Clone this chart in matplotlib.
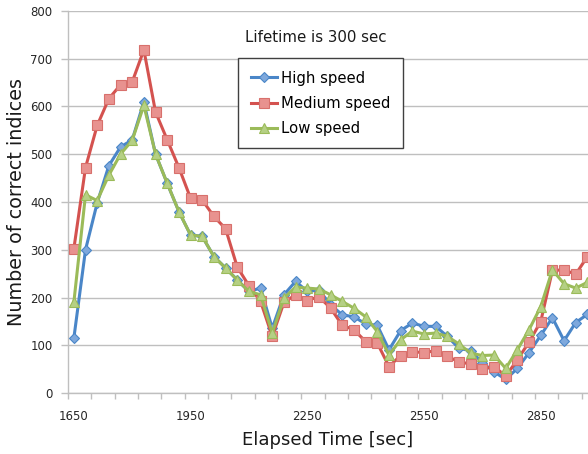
import matplotlib
matplotlib.use("Agg")
import matplotlib.pyplot as plt
from matplotlib.ticker import FixedLocator

plt.rcParams['font.family'] = ['DejaVu Sans']

times = [1650 + 30 * i for i in range(45)]

high = [115, 300, 398, 476, 515, 530, 609, 500, 439, 380,
        331, 328, 286, 262, 237, 213, 220, 136, 206, 234,
        213, 216, 185, 164, 160, 145, 142, 91, 131, 147,
        140, 140, 119, 94, 89, 64, 45, 29, 52, 85,
        121, 158, 110, 148, 165]

medium = [302, 472, 560, 616, 645, 651, 718, 588, 530, 472,
          408, 404, 370, 344, 264, 225, 192, 119, 190, 206,
          194, 202, 178, 142, 133, 108, 105, 56, 79, 87,
          85, 89, 77, 66, 61, 51, 56, 36, 70, 107,
          150, 257, 258, 249, 286]

low = [190, 415, 403, 456, 500, 529, 602, 500, 439, 380,
       331, 328, 286, 262, 237, 213, 206, 126, 199, 222,
       220, 218, 206, 192, 178, 160, 129, 80, 112, 130,
       124, 126, 119, 103, 84, 79, 80, 52, 91, 133,
       181, 258, 229, 220, 232]

xtick_labels = [1650, 1950, 2250, 2550, 2850]
yticks = [0, 100, 200, 300, 400, 500, 600, 700, 800]

fig = plt.figure(figsize=(5.88, 4.54), dpi=100)
ax = fig.add_axes([68 / 588, 60.7 / 454, 1 - 68 / 588, (393.3 - 10.7) / 454])

grid_c = '#BFBFBF'
ax.plot(times, high, color='#4A86C8', lw=2.2, marker='D', ms=5,
        mfc='#7EA8DC', mec='#4A86C8', mew=0.8, label='High speed', zorder=3)
ax.plot(times, medium, color='#D4524F', lw=2.2, marker='s', ms=6.5,
        mfc='#E8928F', mec='#D8706C', mew=0.8, label='Medium speed', zorder=4)
ax.plot(times, low, color='#9BBB59', lw=2.2, marker='^', ms=7,
        mfc='#B5D084', mec='#9BBB59', mew=0.8, label='Low speed', zorder=5)

ax.set_xlim(1635, 1650 + 44.05 * 30)
ax.set_ylim(0, 800)
ax.set_yticks(yticks)
ax.yaxis.grid(True, color=grid_c, lw=1)
ax.set_axisbelow(True)

ax.set_xticks(xtick_labels)
ax.xaxis.set_minor_locator(FixedLocator(list(range(1635, 2980, 60))))
ax.tick_params(axis='x', which='major', length=0, pad=12, labelsize=8.5, colors='#262626')
ax.tick_params(axis='x', which='minor', length=4, width=1, color=grid_c, direction='out')
ax.tick_params(axis='y', length=5, width=1, color=grid_c, pad=6, labelsize=8.5, labelcolor='#262626')

for s in ['top', 'right']:
    ax.spines[s].set_visible(False)
for s in ['left', 'bottom']:
    ax.spines[s].set_color(grid_c)
    ax.spines[s].set_linewidth(1)

ax.set_xlabel('Elapsed Time [sec]', fontsize=13, color='#1a1a1a', labelpad=6)
ax.set_ylabel('Number of correct indices', fontsize=13.8, color='#1a1a1a', labelpad=3)

fig.text(316 / 588, 1 - 38 / 454, 'Lifetime is 300 sec', ha='center', va='center',
         fontsize=10.8, color='#1a1a1a')

leg = ax.legend(loc='upper left', bbox_to_anchor=(238 / 588, 1 - 58 / 454),
                bbox_transform=fig.transFigure, fontsize=10.7, frameon=True,
                fancybox=False, edgecolor='#404040', framealpha=1,
                handlelength=1.8, handletextpad=0.25, labelspacing=0.68,
                borderpad=0.85, borderaxespad=0)
leg.get_frame().set_linewidth(1)
leg.set_zorder(10)

fig.savefig('out.png', dpi=100)
